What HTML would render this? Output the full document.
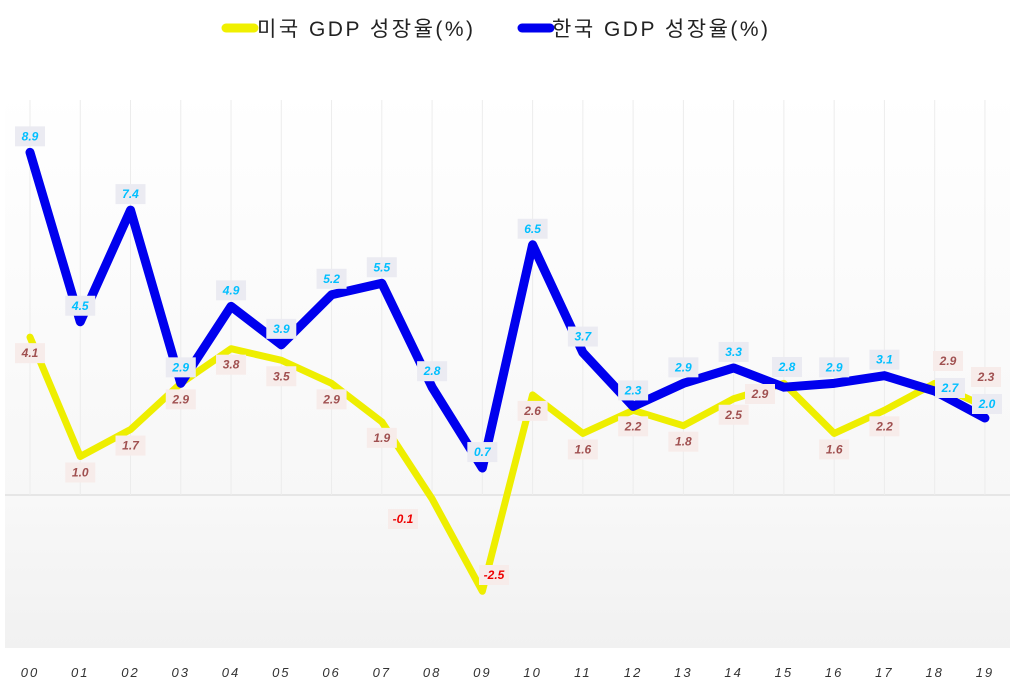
<!DOCTYPE html>
<html><head><meta charset="utf-8"><style>
body{margin:0;background:#fff;width:1024px;height:681px;overflow:hidden;font-family:"Liberation Sans","Noto Sans CJK KR",sans-serif}
</style></head><body>
<svg id="s" width="1024" height="681" xmlns="http://www.w3.org/2000/svg">
<defs>
<linearGradient id="g1" x1="0" y1="0" x2="0" y2="1"><stop offset="0" stop-color="#fff"/><stop offset="1" stop-color="#f7f7f7"/></linearGradient>
<linearGradient id="g2" x1="0" y1="0" x2="0" y2="1"><stop offset="0" stop-color="#f8f8f8"/><stop offset="1" stop-color="#f1f1f1"/></linearGradient>
</defs>
<rect x="5" y="90" width="1005" height="405" fill="url(#g1)"/>
<rect x="5" y="495" width="1005" height="153" fill="url(#g2)"/>
<line x1="5" y1="495" x2="1010" y2="495" stroke="#e6e6e6" stroke-width="2"/>
<g id="grid"></g>
<g id="lines"></g>
<g id="labels"></g>
<g font-size="21" fill="#222" letter-spacing="2.5">
<line x1="226" y1="28" x2="254" y2="28" stroke="#f0f000" stroke-width="9" stroke-linecap="round"/>
<text x="257" y="36">미국 GDP 성장율(%)</text>
<line x1="522" y1="28" x2="550" y2="28" stroke="#0000ee" stroke-width="9" stroke-linecap="round"/>
<text x="552" y="36">한국 GDP 성장율(%)</text>
</g>
</svg>
<script>
var us=[4.1,1.0,1.7,2.9,3.8,3.5,2.9,1.9,-0.1,-2.5,2.6,1.6,2.2,1.8,2.5,2.9,1.6,2.2,2.9,2.3];
var kr=[8.9,4.5,7.4,2.9,4.9,3.9,5.2,5.5,2.8,0.7,6.5,3.7,2.3,2.9,3.3,2.8,2.9,3.1,2.7,2.0];
var NS="http://www.w3.org/2000/svg";
function X(i){return 30+50.26*i}function Y(v){return 495-38.5*v}
function el(t,a,p,txt){var e=document.createElementNS(NS,t);for(var k in a)e.setAttribute(k,a[k]);if(txt!==undefined)e.textContent=txt;document.getElementById(p).appendChild(e);return e}
var s=document.getElementById('s');
for(var i=0;i<20;i++){
 el('line',{x1:X(i),y1:100,x2:X(i),y2:495,stroke:'#ececec','stroke-width':1},'grid');
 var t=document.createElementNS(NS,'text');t.setAttribute('x',X(i));t.setAttribute('y',677);t.setAttribute('text-anchor','middle');t.setAttribute('font-size','13');t.setAttribute('font-style','italic');t.setAttribute('fill','#333');t.setAttribute('letter-spacing','2');t.textContent=(i<10?'0':'')+i;s.appendChild(t);
}
function pts(a){return a.map(function(v,i){return X(i)+','+Y(v)}).join(' ')}
el('polyline',{points:pts(us),fill:'none',stroke:'#eeee00','stroke-width':7,'stroke-linejoin':'round','stroke-linecap':'round'},'lines');
el('polyline',{points:pts(kr),fill:'none',stroke:'#0000ee','stroke-width':9,'stroke-linejoin':'round','stroke-linecap':'round'},'lines');
function lab(x,y,txt,bg,col){
 el('rect',{x:x-15,y:y-10,width:30,height:20,fill:bg},'labels');
 el('text',{x:x,y:y+4,'text-anchor':'middle','font-size':12,'font-style':'italic','font-weight':'bold',fill:col},'labels',txt);
}
var usPos={8:[403,519],9:[494,575],15:[760,394],18:[948,361],19:[986,377]};
var krPos={15:[787,367],18:[950,388],19:[987,404]};
for(var i=0;i<20;i++){
 var p=usPos[i]||[X(i),Y(us[i])+16];
 lab(p[0],p[1],us[i].toFixed(1),'#f7ecea',us[i]<0?'#ee0000':'#a05050');
 var q=krPos[i]||[X(i),Y(kr[i])-16];
 lab(q[0],q[1],kr[i].toFixed(1),'#ebebf2','#00bfff');
}
</script>
</body></html>
